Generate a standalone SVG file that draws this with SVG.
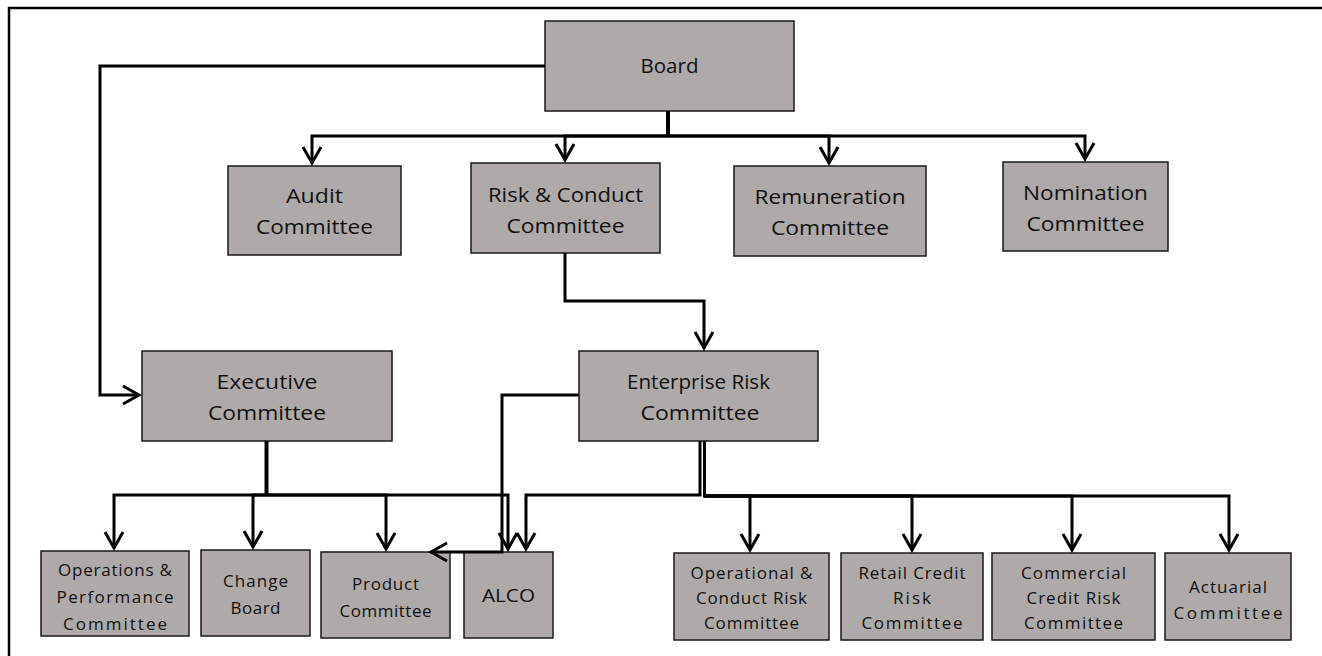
<svg xmlns="http://www.w3.org/2000/svg" width="1322" height="656" viewBox="0 0 1322 656">
<style>
.box{fill:#AEAAAA;stroke:#1a1a1a;stroke-width:1.5}
.t{font-family:"Open Sans","Liberation Sans",sans-serif;font-size:20px;fill:#111;text-anchor:middle}
.s{font-family:"Open Sans","Liberation Sans",sans-serif;font-size:17px;fill:#111;text-anchor:middle}
.c{fill:none;stroke:#000;stroke-width:3;stroke-linejoin:miter}
.a{marker-end:url(#arr)}
.frame{stroke:#000;stroke-width:2.5;fill:none}
</style>
<defs>
<marker id="arr" markerUnits="userSpaceOnUse" viewBox="-20 -12 24 24" markerWidth="24" markerHeight="24" refX="0" refY="0" orient="auto">
<path d="M-16,-9 L0,0 L-16,9" fill="none" stroke="#000" stroke-width="3"/>
</marker>
</defs>
<rect width="1322" height="656" fill="#fff"/>
<path class="frame" d="M9,656 V8 H1322"/>

<g id="board"><rect class="box" x="545" y="21" width="249" height="90"/>
<text class="t" x="669.5" y="73" textLength="58" lengthAdjust="spacingAndGlyphs">Board</text></g>

<g id="audit"><rect class="box" x="228" y="166" width="173" height="89"/>
<text class="t" x="314.5" y="203" textLength="57" lengthAdjust="spacingAndGlyphs">Audit</text>
<text class="t" x="314.5" y="234" textLength="117" lengthAdjust="spacingAndGlyphs">Committee</text></g>

<g id="risk-conduct"><rect class="box" x="471" y="163" width="189" height="90"/>
<text class="t" x="565.5" y="202" textLength="155" lengthAdjust="spacingAndGlyphs">Risk &amp; Conduct</text>
<text class="t" x="565.5" y="233" textLength="118" lengthAdjust="spacingAndGlyphs">Committee</text></g>

<g id="remuneration"><rect class="box" x="734" y="166" width="192" height="90"/>
<text class="t" x="830" y="204" textLength="151" lengthAdjust="spacingAndGlyphs">Remuneration</text>
<text class="t" x="830" y="235" textLength="118" lengthAdjust="spacingAndGlyphs">Committee</text></g>

<g id="nomination"><rect class="box" x="1003" y="162" width="165" height="89"/>
<text class="t" x="1085.5" y="200" textLength="125" lengthAdjust="spacingAndGlyphs">Nomination</text>
<text class="t" x="1085.5" y="231" textLength="118" lengthAdjust="spacingAndGlyphs">Committee</text></g>

<g id="executive"><rect class="box" x="142" y="351" width="250" height="90"/>
<text class="t" x="267" y="389" textLength="101" lengthAdjust="spacingAndGlyphs">Executive</text>
<text class="t" x="267" y="420" textLength="118" lengthAdjust="spacingAndGlyphs">Committee</text></g>

<g id="enterprise-risk"><rect class="box" x="579" y="351" width="239" height="90"/>
<text class="t" x="698.5" y="389" textLength="143" lengthAdjust="spacingAndGlyphs">Enterprise Risk</text>
<text class="t" x="700" y="420" textLength="119" lengthAdjust="spacingAndGlyphs">Committee</text></g>

<g id="ops-performance"><rect class="box" x="41" y="551" width="148" height="85"/>
<text class="s" x="115" y="576" textLength="114" lengthAdjust="spacing">Operations &amp;</text>
<text class="s" x="115" y="603" textLength="117" lengthAdjust="spacing">Performance</text>
<text class="s" x="115" y="630" textLength="104" lengthAdjust="spacing">Committee</text></g>

<g id="change-board"><rect class="box" x="201" y="550" width="109" height="86"/>
<text class="s" x="255.5" y="587" textLength="65" lengthAdjust="spacing">Change</text>
<text class="s" x="255.5" y="614" textLength="50" lengthAdjust="spacing">Board</text></g>

<g id="product"><rect class="box" x="321" y="552" width="129" height="86"/>
<text class="s" x="385.5" y="590" textLength="67" lengthAdjust="spacing">Product</text>
<text class="s" x="385.5" y="617" textLength="92" lengthAdjust="spacing">Committee</text></g>

<g id="alco"><rect class="box" x="464" y="552" width="89" height="86"/>
<text class="s" x="508.5" y="602" textLength="53" lengthAdjust="spacingAndGlyphs" style="font-size:18px">ALCO</text></g>

<g id="op-conduct-risk"><rect class="box" x="674" y="553" width="155" height="87"/>
<text class="s" x="751.5" y="579" textLength="122" lengthAdjust="spacing">Operational &amp;</text>
<text class="s" x="751.5" y="604" textLength="111" lengthAdjust="spacing">Conduct Risk</text>
<text class="s" x="751.5" y="629" textLength="95" lengthAdjust="spacing">Committee</text></g>

<g id="retail-credit-risk"><rect class="box" x="841" y="553" width="142" height="87"/>
<text class="s" x="912" y="579" textLength="107" lengthAdjust="spacing">Retail Credit</text>
<text class="s" x="912" y="604" textLength="38" lengthAdjust="spacing">Risk</text>
<text class="s" x="912" y="629" textLength="101" lengthAdjust="spacing">Committee</text></g>

<g id="commercial-credit-risk"><rect class="box" x="992" y="553" width="163" height="87"/>
<text class="s" x="1073.5" y="579" textLength="105" lengthAdjust="spacing">Commercial</text>
<text class="s" x="1073.5" y="604" textLength="94" lengthAdjust="spacing">Credit Risk</text>
<text class="s" x="1073.5" y="629" textLength="99" lengthAdjust="spacing">Committee</text></g>

<g id="actuarial"><rect class="box" x="1165" y="553" width="126" height="87"/>
<text class="s" x="1228" y="593" textLength="78" lengthAdjust="spacing">Actuarial</text>
<text class="s" x="1228" y="619" textLength="109" lengthAdjust="spacing">Committee</text></g>

<g id="connectors">
<path class="c a" d="M545,66 H100 V395 H139"/>
<path class="c" d="M668,111 V136" style="stroke-width:4"/>
<path class="c a" d="M668,136 H312 V163"/>
<path class="c a" d="M668,136 H565 V160"/>
<path class="c a" d="M668,136 H829 V163"/>
<path class="c a" d="M668,136 H1085 V159"/>
<path class="c a" d="M565,253 V301 H704 V348"/>
<path class="c" d="M266.5,441 V495" style="stroke-width:4"/>
<path class="c a" d="M266,495 H114 V548"/>
<path class="c a" d="M266,495 H253 V547"/>
<path class="c a" d="M266,495 H386 V549"/>
<path class="c a" d="M266,495 H508 V549"/>
<path class="c a" d="M579,395 H502 V552 H431"/>
<path class="c a" d="M700,441 V495 H526 V549"/>
<path class="c a" d="M704.5,441 V496 H750 V550"/>
<path class="c a" d="M704.5,496 H912 V550"/>
<path class="c a" d="M704.5,496 H1072 V550"/>
<path class="c a" d="M704.5,496 H1229 V550"/>
</g>
</svg>
